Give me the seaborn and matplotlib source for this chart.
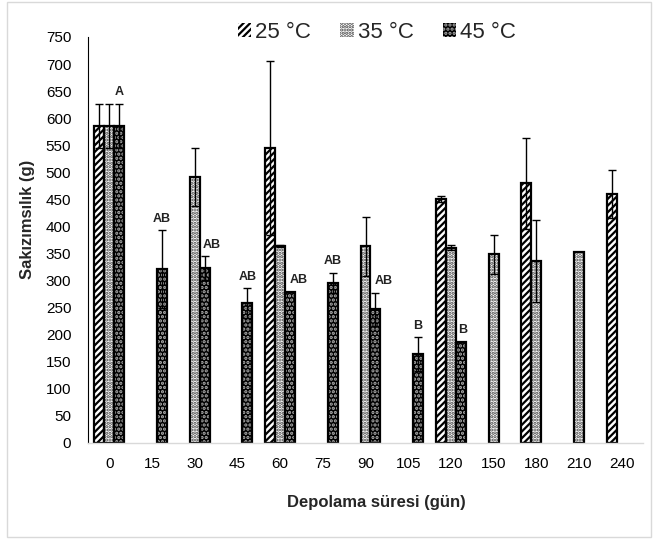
import numpy as np
import pandas as pd
import matplotlib
matplotlib.use("Agg")
import matplotlib.pyplot as plt
from matplotlib.patches import Patch, Rectangle
import seaborn as sns

nan = np.nan
days = ["0", "15", "30", "45", "60", "75", "90", "105", "120", "150", "180", "210", "240"]
series = ["25 °C", "35 °C", "45 °C"]
t25 = [586, nan, nan, nan, 545, nan, nan, nan, 451, nan, 480, nan, 460]
t25_err = [41, nan, nan, nan, 160, nan, nan, nan, 6, nan, 84, nan, 45]
t35 = [586, nan, 491, nan, 364, nan, 363, nan, 361, 349, 336, 353, nan]
t35_err = [41, nan, 54, nan, 2, nan, 55, nan, 4, 36, 76, 0, nan]
t45 = [586, 321, 323, 258, 279, 296, 247, 164, 187, nan, nan, nan, nan]
t45_err = [41, 72, 22, 28, 0, 18, 31, 31, 0, nan, nan, nan, nan]
letters45 = ["A", "AB", "AB", "AB", "AB", "AB", "AB", "B", "B", "", "", "", ""]

rows = []
for s, vals, errs in zip(series, [t25, t35, t45], [t25_err, t35_err, t45_err]):
    for d, v, e in zip(days, vals, errs):
        rows.append({"day": d, "temp": s, "val": v, "err": e})
df = pd.DataFrame(rows)

sns.set_theme(style="white")
plt.rcParams['font.family'] = ['Liberation Sans', 'DejaVu Sans']
plt.rcParams['hatch.linewidth'] = 1.6

fig = plt.figure(figsize=(6.55, 5.39), dpi=100)
ax = fig.add_axes([88/655, 1-443/539, (643-88)/655, (443-37)/539])

sns.barplot(data=df.dropna(subset=["val"]), x="day", y="val", hue="temp",
            order=days, hue_order=series, width=0.70, errorbar=None,
            ax=ax, legend=False)

styles = {
    "25 °C": dict(face="white", hatchc="black", hatch="/////"),
    "35 °C": dict(face="white", hatchc="#444444", hatch="....."),
    "45 °C": dict(face="black", hatchc="#b0b0b0", hatch="...."),
}
errmap = {"25 °C": t25_err, "35 °C": t35_err, "45 °C": t45_err}
valmap = {"25 °C": t25, "35 °C": t35, "45 °C": t45}

for s, cont in zip(series, ax.containers):
    st = styles[s]
    xs, ys, es = [], [], []
    for p in cont.patches:
        h = p.get_height()
        if np.isnan(h):
            continue
        p.set_facecolor(st["face"])
        p.set_edgecolor(st["hatchc"])
        p.set_hatch(st["hatch"])
        p.set_linewidth(0)
        ax.add_patch(Rectangle((p.get_x(), p.get_y()), p.get_width(), h,
                               fill=False, edgecolor="black", linewidth=1.6, zorder=p.get_zorder() + 0.1))
        cx = p.get_x() + p.get_width() / 2
        i = int(round(cx))
        e = errmap[s][i]
        if not np.isnan(e) and e > 0:
            xs.append(cx); ys.append(valmap[s][i]); es.append(e)
    ax.errorbar(xs, ys, yerr=es, fmt="none", ecolor="black", elinewidth=1.0,
                capsize=2.6, capthick=1.0, zorder=5)

# significance letters on 45 °C bars
label_dx = [0, 0, 0.17, 0, 0.2, 0, 0.2, 0, 0.05, 0, 0, 0, 0]
cont45 = ax.containers[2]
for p in cont45.patches:
    h = p.get_height()
    if np.isnan(h):
        continue
    cx = p.get_x() + p.get_width() / 2
    i = int(round(cx))
    lab = letters45[i]
    if not lab:
        continue
    e = t45_err[i]
    top = t45[i] + (0 if np.isnan(e) else e)
    ax.annotate(lab, (cx + label_dx[i], top), xytext=(0, 4), textcoords="offset points",
                ha="center", va="bottom", fontsize=9, fontweight="bold", color="#222222")

ax.set_xlim(-0.5, 12.5)
ax.set_ylim(0, 750)
ax.set_yticks(np.arange(0, 751, 50))
ax.tick_params(axis="both", labelsize=11, length=0, colors="black")
ax.tick_params(axis="x", pad=10)
ax.tick_params(axis="y", pad=12)
for sp in ["top", "right"]:
    ax.spines[sp].set_visible(False)
ax.spines["left"].set_color("black")
ax.spines["left"].set_linewidth(0.8)
ax.spines["bottom"].set_color("#d9d9d9")
ax.spines["bottom"].set_linewidth(1.0)
ax.set_xlabel("Depolama süresi (gün)", fontsize=12, fontweight="bold")
ax.set_ylabel("Sakızımsılık (g)", fontsize=12, fontweight="bold")
ax.xaxis.set_label_coords((376 - 88) / 555, -(495 - 443) / 406)
ax.yaxis.set_label_coords(-(88 - 35) / 555, (443 - 219) / 406)

handles = [Patch(facecolor=styles[s]["face"], edgecolor=styles[s]["hatchc"], hatch=styles[s]["hatch"], linewidth=0) for s in series]
fig.legend(handles, series, loc="center", bbox_to_anchor=(377/655, 1-32/539), ncol=3,
           frameon=False, fontsize=16, handlelength=0.6, handleheight=0.6,
           handletextpad=0.2, columnspacing=1.3)

fig.add_artist(Rectangle((7/655, 2/539), 644/655, 535/539, transform=fig.transFigure,
                         fill=False, edgecolor="#d9d9d9", linewidth=1.0))

fig.savefig("out.png", dpi=100)
